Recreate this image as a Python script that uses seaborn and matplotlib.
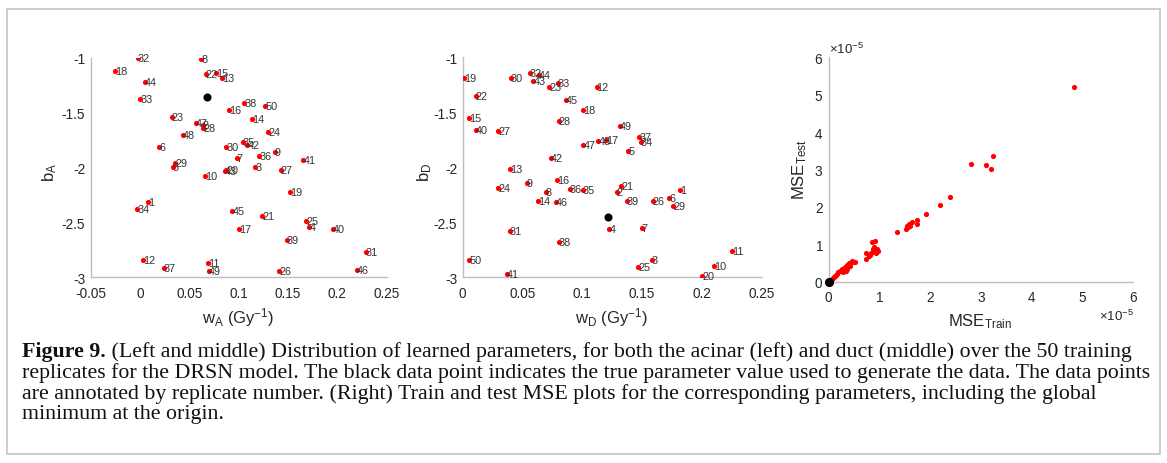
import matplotlib
matplotlib.use("Agg")
import matplotlib.pyplot as plt
import seaborn as sns
import pandas as pd
import numpy as np
from matplotlib.patches import Rectangle
from matplotlib.ticker import FixedLocator, FixedFormatter

# ---- acinar parameters (replicate, w_A, b_A) ----
rep_A = [32, 18, 8, 22, 15, 13, 44, 33, 38, 50, 16, 23, 14, 47, 2, 28, 24, 48, 6, 30,
         35, 42, 9, 36, 7, 29, 5, 3, 27, 41, 43, 20, 10, 19, 1, 34, 45, 21, 17, 25,
         4, 40, 39, 31, 12, 37, 11, 49, 26, 46]
w_A = [-0.0023, -0.0251, 0.0619, 0.0669, 0.0771, 0.0829, 0.0051, 0.0003, 0.1058, 0.1271,
       0.0900, 0.0321, 0.1133, 0.0568, 0.0636, 0.0642, 0.1301, 0.0433, 0.0195, 0.0877,
       0.1040, 0.1090, 0.1367, 0.1210, 0.0979, 0.0355, 0.0330, 0.1171, 0.1427, 0.1656,
       0.0857, 0.0877, 0.0659, 0.1521, 0.0078, -0.0027, 0.0936, 0.1242, 0.1004, 0.1684,
       0.1717, 0.1954, 0.1488, 0.2292, 0.0027, 0.0243, 0.0693, 0.0700, 0.1413, 0.2198]
b_A = [-1.003, -1.116, -1.009, -1.149, -1.139, -1.185, -1.222, -1.374, -1.410, -1.435,
       -1.476, -1.535, -1.558, -1.593, -1.611, -1.638, -1.672, -1.702, -1.809, -1.809,
       -1.766, -1.793, -1.854, -1.891, -1.914, -1.959, -1.996, -1.994, -2.021, -1.927,
       -2.030, -2.021, -2.073, -2.219, -2.310, -2.376, -2.392, -2.445, -2.559, -2.483,
       -2.543, -2.559, -2.656, -2.771, -2.841, -2.917, -2.869, -2.944, -2.939, -2.930]
true_A = (0.068, -1.353)

# ---- duct parameters (replicate, w_D, b_D) ----
rep_D = [19, 22, 15, 40, 27, 30, 32, 44, 43, 23, 33, 45, 18, 28, 47, 42, 13, 12, 49, 48,
         17, 37, 34, 5, 9, 16, 24, 8, 14, 46, 36, 35, 31, 38, 50, 41, 21, 2, 39, 26,
         6, 29, 1, 4, 7, 3, 25, 11, 10, 20]
w_D = [0.0013, 0.0111, 0.0055, 0.0111, 0.0298, 0.0404, 0.0563, 0.0640, 0.0590, 0.0724,
       0.0794, 0.0864, 0.1008, 0.0805, 0.1008, 0.0738, 0.0395, 0.1120, 0.1315, 0.1134,
       0.1198, 0.1477, 0.1491, 0.1385, 0.0535, 0.0791, 0.0298, 0.0694, 0.0627, 0.0780,
       0.0897, 0.1003, 0.0395, 0.0803, 0.0055, 0.0368, 0.1324, 0.1288, 0.1371, 0.1589,
       0.1725, 0.1761, 0.1817, 0.1226, 0.1497, 0.1580, 0.1468, 0.2249, 0.2104, 0.2004]
b_D = [-1.188, -1.349, -1.552, -1.658, -1.673, -1.188, -1.145, -1.158, -1.213, -1.273,
       -1.236, -1.388, -1.476, -1.576, -1.795, -1.918, -2.015, -1.267, -1.627, -1.758,
       -1.752, -1.722, -1.773, -1.855, -2.143, -2.115, -2.188, -2.227, -2.309, -2.318,
       -2.197, -2.204, -2.576, -2.676, -2.840, -2.970, -2.167, -2.222, -2.309, -2.309,
       -2.282, -2.349, -2.204, -2.561, -2.555, -2.843, -2.904, -2.758, -2.895, -2.985]
true_D = (0.1217, -2.449)

# ---- train / test MSE (units of 1e-5) ----
mse_train_e5 = [4.83, 2.80, 3.09, 3.24, 3.20, 2.39, 2.19, 1.91, 1.73, 1.73,
                1.63, 1.58, 1.53, 1.51, 1.56, 1.60, 1.35, 0.91, 0.84, 0.89,
                0.94, 0.97, 0.91, 0.87, 0.83, 0.72, 0.78, 0.73, 0.93, 0.51,
                0.45, 0.40, 0.36, 0.32, 0.25, 0.36, 0.28, 0.18, 0.14, 0.10,
                0.06, 0.03, 0.22, 0.34, 0.41, 0.16, 0.07, 0.12, 0.48, 0.80]
mse_test_e5 = [5.21, 3.16, 3.12, 3.35, 3.01, 2.26, 2.06, 1.81, 1.66, 1.53,
               1.59, 1.53, 1.48, 1.41, 1.45, 1.50, 1.32, 1.10, 1.05, 0.92,
               0.87, 0.83, 0.80, 0.87, 0.76, 0.78, 0.68, 0.62, 0.78, 0.52,
               0.56, 0.50, 0.45, 0.38, 0.34, 0.34, 0.27, 0.25, 0.18, 0.13,
               0.07, 0.04, 0.29, 0.29, 0.41, 0.21, 0.10, 0.16, 0.53, 0.71]
mse_min = (0.0, 0.0)

w_ticks = [-0.05, 0, 0.05, 0.1, 0.15, 0.2, 0.25]
w_ticklabels = ["-0.05", "0", "0.05", "0.1", "0.15", "0.2", "0.25"]
b_ticks = [-3, -2.5, -2, -1.5, -1]
b_ticklabels = ["-3", "-2.5", "-2", "-1.5", "-1"]
mse_ticks = [0, 1, 2, 3, 4, 5, 6]

caption_bold = "Figure 9."
caption_lines = [
    " (Left and middle) Distribution of learned parameters, for both the acinar (left) and duct (middle) over the 50 training",
    "replicates for the DRSN model. The black data point indicates the true parameter value used to generate the data. The data points",
    "are annotated by replicate number. (Right) Train and test MSE plots for the corresponding parameters, including the global",
    "minimum at the origin.",
]

# ---- figure setup ----
sns.set_theme(style="white")
plt.rcParams["font.family"] = ["Liberation Sans", "DejaVu Sans"]
plt.rcParams["mathtext.fontset"] = "custom"
plt.rcParams["mathtext.rm"] = "Liberation Sans"
plt.rcParams["mathtext.it"] = "Liberation Sans"
plt.rcParams["mathtext.bf"] = "Liberation Sans:bold"

W, H = 1167, 464
fig = plt.figure(figsize=(W / 100, H / 100), dpi=100)
fig.patch.set_facecolor("white")

AX_GREY = "#bdbdbd"
TXT = "#262626"


def px_axes(l, t, r, b):
    return fig.add_axes([l / W, 1 - b / H, (r - l) / W, (b - t) / H])


def ptext(x, y, s, **kw):
    return fig.text(x / W, 1 - y / H, s, **kw)


def style(ax):
    sns.despine(ax=ax)
    for side in ("left", "bottom"):
        ax.spines[side].set_color(AX_GREY)
        ax.spines[side].set_linewidth(1.0)
    ax.tick_params(direction="in", length=3, width=0.8, color=AX_GREY,
                   labelcolor=TXT, labelsize=9.8)
    ax.tick_params(axis="x", pad=6)
    ax.tick_params(axis="y", pad=4)
    ax.set_xlabel("")
    ax.set_ylabel("")


def param_panel(ax, reps, wv, bv, true_pt, xlim, xt, xtl):
    df = pd.DataFrame({"w": wv, "b": bv, "rep": reps})
    sns.scatterplot(data=df, x="w", y="b", ax=ax, color="red", s=14,
                    linewidth=0, zorder=3)
    for _, row in df.iterrows():
        ax.text(row["w"], row["b"], str(int(row["rep"])), fontsize=7.8,
                color="#333333", ha="left", va="center", zorder=4)
    sns.scatterplot(x=[true_pt[0]], y=[true_pt[1]], ax=ax, color="black",
                    s=34, linewidth=0, zorder=5)
    ax.set_xlim(*xlim)
    ax.set_ylim(-3, -1)
    ax.xaxis.set_major_locator(FixedLocator(xt))
    ax.xaxis.set_major_formatter(FixedFormatter(xtl))
    ax.yaxis.set_major_locator(FixedLocator(b_ticks))
    ax.yaxis.set_major_formatter(FixedFormatter(b_ticklabels))
    style(ax)


# left: acinar
axA = px_axes(90.7, 59.0, 386.5, 278.3)
param_panel(axA, rep_A, w_A, b_A, true_A, (-0.05, 0.25), w_ticks, w_ticklabels)

# middle: duct
axD = px_axes(462.7, 58.3, 761.7, 278.3)
param_panel(axD, rep_D, w_D, b_D, true_D, (0, 0.25), w_ticks[1:], w_ticklabels[1:])

# right: MSE
axM = px_axes(829.0, 58.3, 1133.3, 282.7)
mse = pd.DataFrame({"train": np.array(mse_train_e5) * 1e-5,
                    "test": np.array(mse_test_e5) * 1e-5})
sns.scatterplot(data=mse, x="train", y="test", ax=axM, color="red", s=14,
                linewidth=0, zorder=3)
sns.scatterplot(x=[mse_min[0]], y=[mse_min[1]], ax=axM, color="black", s=44,
                linewidth=0, zorder=5)
axM.set_xlim(0, 6e-5)
axM.set_ylim(0, 6e-5)
axM.xaxis.set_major_locator(FixedLocator([t * 1e-5 for t in mse_ticks]))
axM.yaxis.set_major_locator(FixedLocator([t * 1e-5 for t in mse_ticks]))
axM.ticklabel_format(style="sci", scilimits=(0, 0), useMathText=True)
style(axM)
for t in (axM.xaxis.get_offset_text(), axM.yaxis.get_offset_text()):
    t.set_fontsize(9.5)
    t.set_color(TXT)
for c in axM.collections:
    c.set_clip_on(False)

# axis titles
lab = dict(fontsize=12, color=TXT, ha="center", va="center")
ptext(50, 172, r"$\mathrm{b_A}$", rotation=90, **lab)
ptext(238, 318, r"$\mathrm{w_A}$ (Gy$^{\mathrm{-1}}$)", **lab)
ptext(425, 172, r"$\mathrm{b_D}$", rotation=90, **lab)
ptext(611, 318, r"$\mathrm{w_D}$ (Gy$^{\mathrm{-1}}$)", **lab)
ptext(800, 170, r"$\mathrm{MSE_{Test}}$", rotation=90, **lab)
ptext(980, 322, r"$\mathrm{MSE_{Train}}$", **lab)

# outer frame
fig.patches.append(Rectangle((7 / W, 1 - 455 / H), (1160 - 7) / W, (455 - 10) / H,
                             transform=fig.transFigure, fill=False,
                             edgecolor="#c4c4c4", linewidth=1.2))

# caption, sized so the longest line spans the frame width
renderer = fig.canvas.get_renderer()
cap_font = ["Liberation Serif", "DejaVu Serif"]
probe = ptext(22, 373, caption_lines[1], family=cap_font, fontsize=12)
wid = probe.get_window_extent(renderer).width
probe.remove()
fs = 12 * (1150 - 22) / wid
line_y = [352, 373, 394, 415]
bold = ptext(22, line_y[0], caption_bold, family=cap_font, fontsize=fs,
             fontweight="bold", color="#111111", va="center")
bx = bold.get_window_extent(renderer).x1
ptext(bx, line_y[0], caption_lines[0], family=cap_font, fontsize=fs,
      color="#111111", va="center")
for y, s in zip(line_y[1:], caption_lines[1:]):
    ptext(22, y, s, family=cap_font, fontsize=fs, color="#111111", va="center")

fig.savefig("out.png", dpi=100)
